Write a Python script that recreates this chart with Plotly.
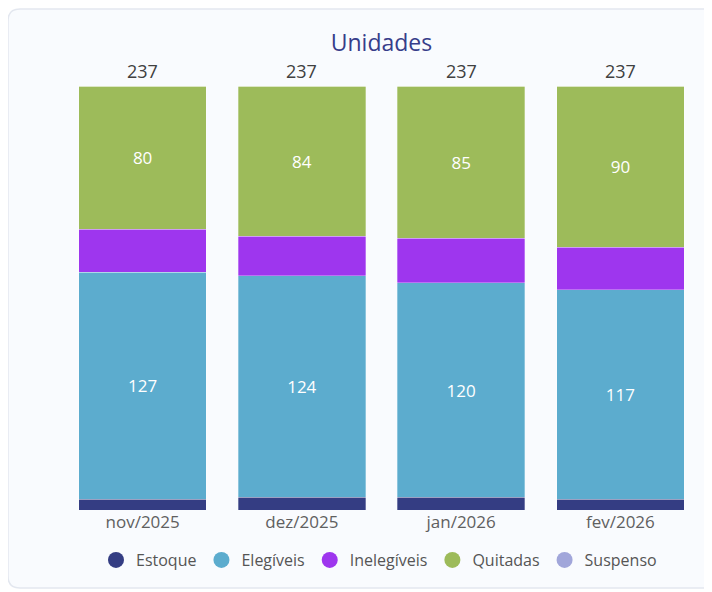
import plotly.graph_objects as go

months = ["nov/2025", "dez/2025", "jan/2026", "fev/2026"]
estoque = [6, 7, 7, 6]
elegiveis = [127, 124, 120, 117]
inelegiveis = [24, 22, 25, 24]
quitadas = [80, 84, 85, 90]
suspenso = [0, 0, 0, 0]
totals = [a + b + c + d + e for a, b, c, d, e in zip(estoque, elegiveis, inelegiveis, quitadas, suspenso)]

series = [
    ("Estoque", estoque, "#343d83", False),
    ("Elegíveis", elegiveis, "#5cacce", True),
    ("Inelegíveis", inelegiveis, "#9e36ee", False),
    ("Quitadas", quitadas, "#9dbb5a", True),
    ("Suspenso", suspenso, "#a1a6da", False),
]

FONT = "Open Sans"
W, H = 712, 592
# the page body adds an 8px offset, so the layout is set 8px up/left
L, R, T, B = 55, 20, 78, 90

fig = go.Figure()

for name, vals, color, labels in series:
    fig.add_trace(
        go.Bar(
            x=months,
            y=vals,
            name=name,
            marker=dict(color=color, line=dict(width=0.6, color="rgba(255,255,255,0.5)")),
            text=[str(v) for v in vals] if labels else None,
            textposition="inside" if labels else "none",
            insidetextanchor="middle",
            textfont=dict(color="white", size=17, family=FONT),
            showlegend=False,
            hoverinfo="x+y+name",
        )
    )
    # circle markers for the legend
    fig.add_trace(
        go.Scatter(
            x=[None],
            y=[None],
            mode="markers",
            name=name,
            marker=dict(color=color, size=16, symbol="circle"),
        )
    )

# totals above the bars
for m, t in zip(months, totals):
    fig.add_annotation(
        x=m,
        y=t,
        text=str(t),
        showarrow=False,
        yanchor="bottom",
        yshift=1,
        font=dict(size=18, color="#404040", family=FONT),
    )


def px(x):
    return (x - L) / (W - L - R)


def py(y):
    return (H - B - y) / (H - T - B)


# rounded card behind the chart
x0, x1, y0, y1, r = 0, 716, 1, 580, 12
rx = r / (W - L - R)
ry = r / (H - T - B)
card = (
    f"M {px(x0) + rx} {py(y0)} L {px(x1) - rx} {py(y0)} "
    f"Q {px(x1)} {py(y0)} {px(x1)} {py(y0) - ry} "
    f"L {px(x1)} {py(y1) + ry} Q {px(x1)} {py(y1)} {px(x1) - rx} {py(y1)} "
    f"L {px(x0) + rx} {py(y1)} Q {px(x0)} {py(y1)} {px(x0)} {py(y1) + ry} "
    f"L {px(x0)} {py(y0) - ry} Q {px(x0)} {py(y0)} {px(x0) + rx} {py(y0)} Z"
)

fig.update_layout(
    width=W,
    height=H,
    barmode="stack",
    bargap=0.2,
    margin=dict(l=L, r=R, t=T, b=B),
    paper_bgcolor="white",
    plot_bgcolor="rgba(0,0,0,0)",
    font=dict(family=FONT, color="#555555"),
    title=dict(
        text="Unidades",
        x=(L + (W - L - R) / 2) / W,
        xanchor="center",
        y=1 - 35 / H,
        yanchor="middle",
        font=dict(size=23, color="#363d8a", family=FONT),
    ),
    xaxis=dict(
        showgrid=False,
        showline=False,
        ticks="",
        tickfont=dict(size=17, color="#606060", family=FONT),
    ),
    yaxis=dict(visible=False, range=[0, 237], showgrid=False),
    legend=dict(
        orientation="h",
        traceorder="normal",
        x=px(371),
        xanchor="center",
        y=py(552),
        yanchor="middle",
        bgcolor="rgba(0,0,0,0)",
        font=dict(size=16, color="#555555", family=FONT),
        itemwidth=30,
        tracegroupgap=0,
    ),
    shapes=[
        dict(
            type="path",
            path=card,
            xref="paper",
            yref="paper",
            fillcolor="#f9fbfe",
            line=dict(color="#e3e7ef", width=1.5),
            layer="below",
        )
    ],
)

fig.write_html("out.html")
